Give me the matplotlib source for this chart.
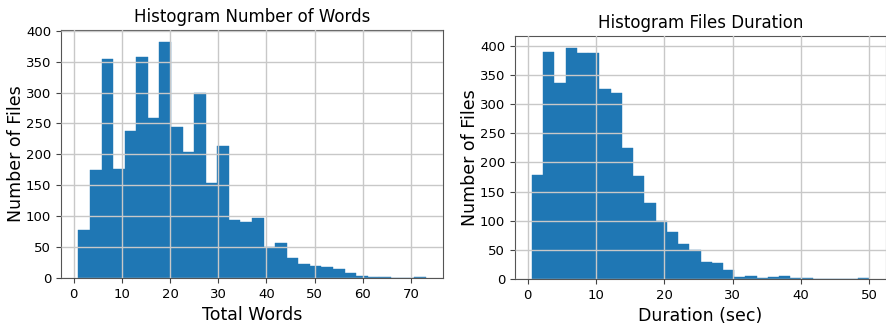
import numpy as np
import matplotlib
matplotlib.use("Agg")
import matplotlib.pyplot as plt

# Data: histogram bin counts
words_range = (1.0, 73.0)
words_counts = [78, 174, 355, 176, 238, 358, 258, 382, 244, 204,
                300, 153, 213, 94, 90, 97, 50, 57, 32, 22,
                20, 17, 15, 8, 4, 2, 2, 0, 0, 2]

dur_range = (0.6, 50.0)
dur_counts = [179, 389, 336, 397, 387, 387, 326, 319, 224, 176,
              130, 100, 81, 60, 49, 29, 27, 16, 4, 6,
              2, 4, 6, 2, 2, 0, 0, 0, 0, 2]

W, H = 887, 324
fig = plt.figure(figsize=(W / 100, H / 100), dpi=100)

def box(l, t, r, b):
    return [l / W, 1 - b / H, (r - l) / W, (b - t) / H]

ax1 = fig.add_axes(box(61, 30, 443, 278))
ax2 = fig.add_axes(box(515, 36, 886, 279))

def draw(ax, rng, counts, title, xlabel, xticks, yticks):
    edges = np.linspace(rng[0], rng[1], len(counts) + 1)
    ax.bar(edges[:-1], counts, width=np.diff(edges), align='edge',
           color='#1f77b4', edgecolor='#1f77b4', linewidth=0.3)
    ax.grid(True, color='#c8c8c8', linewidth=1.0)
    ax.set_axisbelow(False)
    ax.set_title(title, fontsize=12)
    ax.set_xlabel(xlabel, fontsize=12.5)
    ax.set_ylabel('Number of Files', fontsize=12.5, labelpad=1)
    ax.set_xticks(xticks)
    ax.set_yticks(yticks)
    ax.tick_params(labelsize=9.5, color='#444444')
    for s in ax.spines.values():
        s.set_color('#555555')
    ax.set_ylim(0, max(counts) * 1.05)
    span = rng[1] - rng[0]
    ax.set_xlim(rng[0] - 0.05 * span, rng[1] + 0.05 * span)

draw(ax1, words_range, words_counts, 'Histogram Number of Words', 'Total Words',
     [0, 10, 20, 30, 40, 50, 60, 70], list(range(0, 401, 50)))
draw(ax2, dur_range, dur_counts, 'Histogram Files Duration', 'Duration (sec)',
     [0, 10, 20, 30, 40, 50], list(range(0, 401, 50)))

fig.savefig('out.png', dpi=100)
